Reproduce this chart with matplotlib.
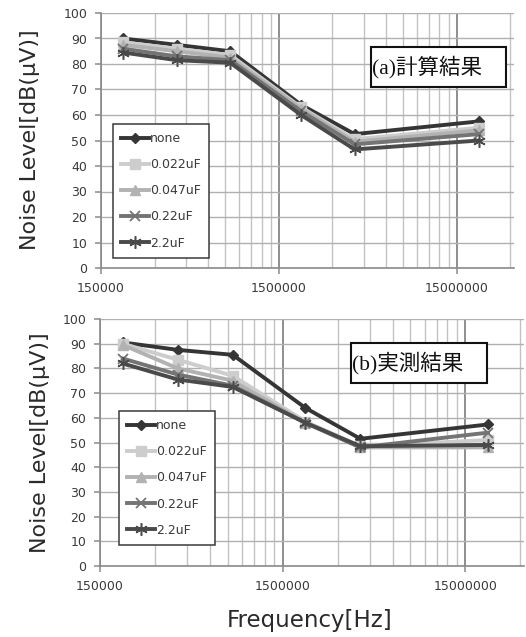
import matplotlib
matplotlib.use("Agg")
import matplotlib.pyplot as plt
from matplotlib.patches import Rectangle
from matplotlib.ticker import FixedLocator, NullFormatter

freqs = [200e3, 400e3, 800e3, 2e6, 4e6, 20e6]
series_names = ["none", "0.022uF", "0.047uF", "0.22uF", "2.2uF"]

calc_none = [90, 87.5, 85, 64, 52.5, 57.5]
calc_022n = [88.5, 86, 83.5, 63, 50.5, 55]
calc_047n = [87.5, 85, 82.5, 62.5, 49.5, 54]
calc_022u = [86, 83, 81.5, 61.5, 48.5, 52.5]
calc_2u2 = [84.5, 81.5, 80.5, 60, 46.5, 50]

meas_none = [90.5, 87.5, 85.5, 64, 51.5, 57.3]
meas_022n = [90, 83.5, 77, 58.5, 48.5, 51]
meas_047n = [89.5, 80, 75, 58, 48, 48]
meas_022u = [84, 77.5, 73, 58, 48, 54]
meas_2u2 = [82, 75.5, 72.5, 58, 48.5, 49]

xtick_vals = [150000, 1500000, 15000000]
xtick_labels = ["150000", "1500000", "15000000"]
ytick_vals = list(range(0, 101, 10))

styles = [
    dict(color="#353535", marker="D", ms=5, mew=1),
    dict(color="#cdcdcd", marker="s", ms=6.5, mew=1),
    dict(color="#b2b2b2", marker="^", ms=6.5, mew=1),
    dict(color="#747474", marker="x", ms=7.5, mew=1.3),
    dict(color="#4a4a4a", marker=(6, 2, 0), ms=9, mew=1.1),
]

fig = plt.figure(figsize=(5.26, 6.37), dpi=100)

def setup(ax):
    ax.set_xscale("log")
    ax.set_xlim(150000, 31.5e6)
    ax.set_ylim(0, 100)
    ax.xaxis.set_major_locator(FixedLocator(xtick_vals))
    minors = [m * v for v in xtick_vals for m in range(2, 10)]
    ax.xaxis.set_minor_locator(FixedLocator(minors))
    ax.xaxis.set_minor_formatter(NullFormatter())
    ax.set_xticklabels(xtick_labels)
    ax.set_yticks(ytick_vals)
    ax.grid(True, which="major", axis="x", color="#8e8e8e", lw=1.4)
    ax.grid(True, which="minor", axis="x", color="#c2c2c2", lw=1.0)
    ax.grid(True, which="major", axis="y", color="#b0b0b0", lw=1.0)
    ax.set_axisbelow(True)
    for s in ["top", "right"]:
        ax.spines[s].set_visible(False)
    for s in ["left", "bottom"]:
        ax.spines[s].set_color("#8a8a8a")
        ax.spines[s].set_linewidth(1.2)
    ax.tick_params(axis="both", which="major", length=4, width=1.1, color="#8a8a8a",
                   labelsize=9, labelcolor="#3a3a3a")
    ax.tick_params(axis="x", which="minor", length=0)
    ax.tick_params(axis="y", pad=6)
    ax.tick_params(axis="x", pad=6)

def draw(ax, data, legend_anchor):
    for vals, name, st in zip(data, series_names, styles):
        ax.plot(freqs, vals, color=st["color"], lw=2.8, marker=st["marker"],
                ms=st["ms"], mew=st["mew"], mec=st["color"], mfc=st["color"], label=name)
    leg = ax.legend(loc="upper left", bbox_to_anchor=legend_anchor,
                    bbox_transform=fig.transFigure, fontsize=9, frameon=True,
                    fancybox=False, edgecolor="#3a3a3a", framealpha=1,
                    labelspacing=1.05, handlelength=2.2, handletextpad=0.1,
                    borderpad=0.65, borderaxespad=0)
    leg.get_frame().set_linewidth(1.1)
    for t in leg.get_texts():
        t.set_color("#3a3a3a")

ax1 = fig.add_axes([101 / 526, 1 - 268 / 637, 413 / 526, 255 / 637])
setup(ax1)
draw(ax1, [calc_none, calc_022n, calc_047n, calc_022u, calc_2u2], (113 / 526, 1 - 124 / 637))

ax2 = fig.add_axes([100 / 526, 1 - 566 / 637, 424 / 526, 247 / 637])
setup(ax2)
draw(ax2, [meas_none, meas_022n, meas_047n, meas_022u, meas_2u2], (119 / 526, 1 - 411 / 637))

# annotation boxes
fig.add_artist(Rectangle((371 / 526, 1 - 87 / 637), 135 / 526, 40 / 637,
                         transform=fig.transFigure, fc="white", ec="#111111", lw=1.5, zorder=5))
fig.text(372 / 526, 1 - 67 / 637, "(a)計算結果", family=["Liberation Serif", "Noto Sans CJK JP"],
         fontsize=15.5, va="center", ha="left", color="#111111", zorder=6)
fig.add_artist(Rectangle((351 / 526, 1 - 383 / 637), 136 / 526, 40 / 637,
                         transform=fig.transFigure, fc="white", ec="#111111", lw=1.5, zorder=5))
fig.text(352 / 526, 1 - 363 / 637, "(b)実測結果", family=["Liberation Serif", "Noto Sans CJK JP"],
         fontsize=15.5, va="center", ha="left", color="#111111", zorder=6)

fig.text(30 / 526, 1 - 140 / 637, "Noise Level[dB(μV)]", rotation=90, ha="center", va="center",
         fontsize=16, color="#2a2a2a")
fig.text(40 / 526, 1 - 443 / 637, "Noise Level[dB(μV)]", rotation=90, ha="center", va="center",
         fontsize=16, color="#2a2a2a")
fig.text(310 / 526, 1 - 620 / 637, "Frequency[Hz]", ha="center", va="center",
         fontsize=16.5, color="#2a2a2a")

fig.savefig("out.png", dpi=100, facecolor="white")
